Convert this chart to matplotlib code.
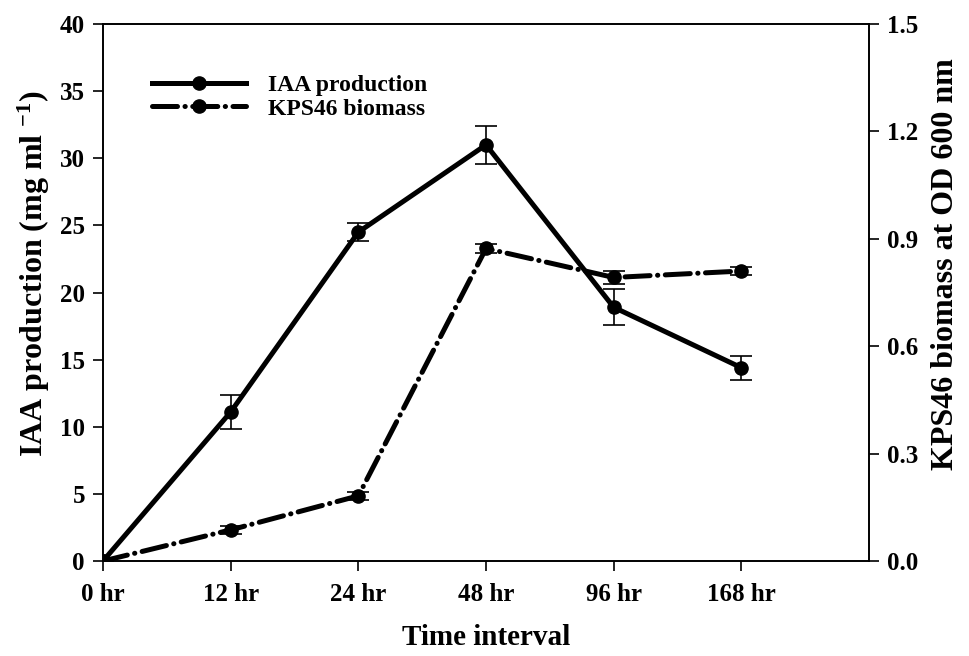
import matplotlib
matplotlib.use("Agg")
import matplotlib.pyplot as plt
import numpy as np

# Sampling times and measured values
time_labels = ["0 hr", "12 hr", "24 hr", "48 hr", "96 hr", "168 hr"]
iaa_mean = [0.0, 11.1, 24.5, 31.0, 18.9, 14.4]
iaa_err = [0.0, 1.3, 0.7, 1.4, 1.35, 0.9]
biomass_mean = [0.0, 0.087, 0.182, 0.873, 0.792, 0.810]
biomass_err = [0.0, 0.012, 0.012, 0.012, 0.018, 0.012]

plt.rcParams["font.family"] = ["Liberation Serif", "DejaVu Serif"]
plt.rcParams["font.weight"] = "bold"
plt.rcParams["mathtext.fontset"] = "custom"
plt.rcParams["mathtext.rm"] = "Liberation Serif:bold"
plt.rcParams["mathtext.bf"] = "Liberation Serif:bold"
plt.rcParams["mathtext.it"] = "Liberation Serif:bold"

fig = plt.figure(figsize=(9.7, 6.56), dpi=100)
ax = fig.add_axes([0.1062, 0.1448, 0.7897, 0.8186])
ax2 = ax.twinx()

x = np.arange(len(time_labels))
lw = 3.6
dashdot = (0, (5.0, 1.5, 0.05, 1.5))

eb1 = ax.errorbar(x, iaa_mean, yerr=iaa_err, color="black", lw=lw, marker="o",
                  markersize=9.5, ecolor="black", elinewidth=1.2, capsize=8,
                  capthick=1.2, label="IAA production", zorder=3)

eb2 = ax2.errorbar(x, biomass_mean, yerr=biomass_err, color="black", lw=lw,
                   marker="o", markersize=9.5, ecolor="black", elinewidth=1.2,
                   capsize=8, capthick=1.2, label="KPS46 biomass",
                   linestyle=dashdot, zorder=2)
eb2[0].set_dash_capstyle("round")

ax.set_xlim(0, 6)
ax.set_ylim(0, 40)
ax2.set_ylim(0, 1.5)
ax.set_xticks(x)
ax.set_xticklabels(time_labels)
ax.set_yticks(np.arange(0, 41, 5))
ax2.set_yticks(np.arange(0, 1.51, 0.3))
ax2.set_yticklabels([f"{v:.1f}" for v in np.arange(0, 1.51, 0.3)])

for a in (ax, ax2):
    a.tick_params(direction="out", length=7, width=1.2, labelsize=18, pad=6)
    for s in a.spines.values():
        s.set_linewidth(1.2)
    for lab in a.get_xticklabels() + a.get_yticklabels():
        lab.set_fontweight("bold")
ax.tick_params(axis="x", pad=9)

ax.set_xlabel("Time interval", fontsize=21, fontweight="bold", labelpad=13)
ax.set_ylabel("IAA production (mg ml $^{-1}$)", fontsize=23,
              fontweight="bold")
ax2.set_ylabel("KPS46 biomass at OD 600 nm", fontsize=23,
               fontweight="bold")
ax.yaxis.set_label_coords(-0.067, 0.535)
ax2.yaxis.set_label_coords(1.081, 0.553)

leg = ax2.legend([eb1[0], eb2[0]], ["IAA production", "KPS46 biomass"],
                 loc="upper left", bbox_to_anchor=(0.036, 0.946),
                 frameon=False,
                 prop={"family": "Liberation Serif", "weight": "bold",
                       "size": 17},
                 handlelength=4.0, handletextpad=0.93, labelspacing=0.1)

fig.savefig("out.png", dpi=100)
